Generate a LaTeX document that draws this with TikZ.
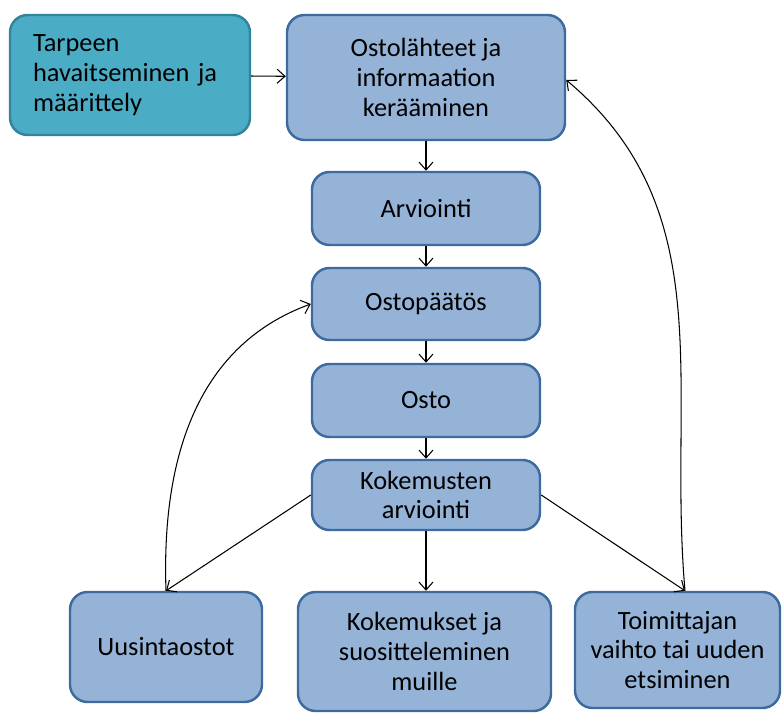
\documentclass[tikz,border=0pt]{standalone}
\usepackage{fontspec}
\setmainfont{Carlito}
\usetikzlibrary{arrows.meta}

\definecolor{tealfill}{HTML}{4BACC6}
\definecolor{tealline}{HTML}{31849B}
\definecolor{bluefill}{HTML}{95B3D7}
\definecolor{blueline}{HTML}{3D6B9F}

\tikzset{
  box/.style={draw=blueline, fill=bluefill, line width=1.4pt, rounded corners=0.35cm,
    align=center, inner sep=2pt, font=\fontsize{15}{17}\selectfont},
  flow/.style={-{Straight Barb[length=4.5pt,width=8pt]}, line width=0.6pt, black}
}

\begin{document}
\begin{tikzpicture}
    \useasboundingbox (0,0) rectangle (15.64,14.26);

    % Top row
    \node[box, draw=tealline, fill=tealfill, align=left, text width=3.88cm, inner xsep=0.46cm,
          minimum width=4.8cm, minimum height=2.4cm] (tarve) at (2.6,12.76)
          {Tarpeen\\havaitseminen ja\\määrittely};
    \node[box, minimum width=5.56cm, minimum height=2.5cm] (lahteet) at (8.52,12.71)
          {Ostolähteet ja\\informaation\\kerääminen};

    % Middle column
    \node[box, minimum width=4.56cm, minimum height=1.46cm] (arviointi) at (8.52,10.09) {Arviointi};
    \node[box, minimum width=4.56cm, minimum height=1.44cm] (paatos) at (8.52,8.18) {Ostopäätös};
    \node[box, minimum width=4.56cm, minimum height=1.46cm] (osto) at (8.52,6.25) {Osto};
    \node[box, minimum width=4.56cm, minimum height=1.4cm] (kokemus) at (8.52,4.36)
          {Kokemusten\\arviointi};

    % Bottom row
    \node[box, minimum width=3.84cm, minimum height=2.2cm] (uusinta) at (3.32,1.32) {Uusintaostot};
    \node[box, minimum width=5.06cm, minimum height=2.38cm] (suositus) at (8.49,1.23)
          {Kokemukset ja\\suositteleminen\\muille};
    \node[box, minimum width=4.1cm, minimum height=2.32cm] (vaihto) at (13.55,1.26)
          {Toimittajan\\vaihto tai uuden\\etsiminen};

    % Arrows
    \draw[flow] (tarve) -- (lahteet);
    \draw[flow] (lahteet) -- (arviointi);
    \draw[flow] (arviointi) -- (paatos);
    \draw[flow] (paatos) -- (osto);
    \draw[flow] (osto) -- (kokemus);
    \draw[flow] (kokemus.south) -- (kokemus.south |- suositus.north);
    \draw[flow] (kokemus.west) -- (uusinta.north);
    \draw[flow] (kokemus.east) -- ([xshift=0.15cm]vaihto.north);

    % Feedback loops
    \draw[flow] (uusinta.north) to[out=92, in=200] (paatos.west);
    \draw[flow] ([xshift=0.15cm]vaihto.north) to[out=95, in=-40] ([yshift=-0.05cm]lahteet.east);
\end{tikzpicture}
\end{document}
